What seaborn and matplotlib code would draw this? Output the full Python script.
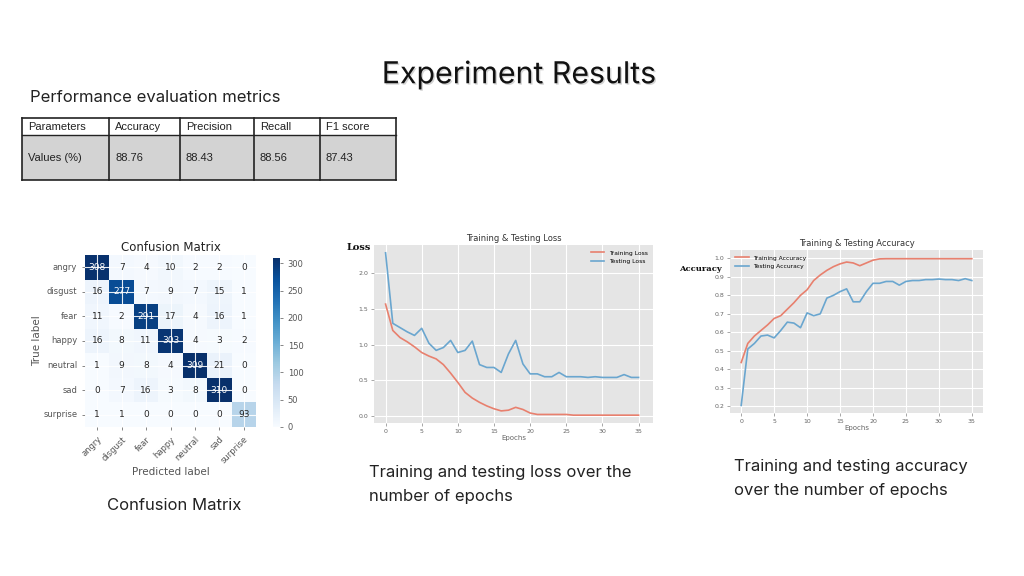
import numpy as np
import pandas as pd
import matplotlib
matplotlib.use("Agg")
import matplotlib.pyplot as plt
import matplotlib.patheffects as pe
from matplotlib.patches import Rectangle
import seaborn as sns

# ---------------- data ----------------
table_headers = ["Parameters", "Accuracy", "Precision", "Recall", "F1 score"]
table_values = ["Values (%)", "88.76", "88.43", "88.56", "87.43"]

cm_labels = ["angry", "disgust", "fear", "happy", "neutral", "sad", "surprise"]
cm_values = [
    [308, 7, 4, 10, 2, 2, 0],
    [16, 277, 7, 9, 7, 15, 1],
    [11, 2, 291, 17, 4, 16, 1],
    [16, 8, 11, 303, 4, 3, 2],
    [1, 9, 8, 4, 309, 21, 0],
    [0, 7, 16, 3, 8, 310, 0],
    [1, 1, 0, 0, 0, 0, 93],
]

epochs = list(range(36))
train_loss = [1.57, 1.20, 1.10, 1.04, 0.97, 0.89, 0.84, 0.80, 0.72, 0.60, 0.47, 0.33,
              0.25, 0.19, 0.14, 0.10, 0.07, 0.08, 0.12, 0.09, 0.04, 0.02, 0.02, 0.02,
              0.02, 0.02, 0.01, 0.01, 0.01, 0.01, 0.01, 0.01, 0.01, 0.01, 0.01, 0.01]
test_loss = [2.29, 1.30, 1.24, 1.18, 1.13, 1.23, 1.02, 0.92, 0.96, 1.06, 0.89, 0.92,
             1.05, 0.72, 0.68, 0.68, 0.61, 0.87, 1.06, 0.73, 0.59, 0.59, 0.55, 0.55,
             0.61, 0.55, 0.55, 0.55, 0.54, 0.55, 0.54, 0.54, 0.54, 0.58, 0.54, 0.54]

train_acc = [0.437, 0.54, 0.58, 0.61, 0.64, 0.675, 0.69, 0.725, 0.76, 0.80, 0.83, 0.88,
             0.91, 0.935, 0.955, 0.97, 0.98, 0.975, 0.96, 0.975, 0.99, 0.997, 0.998, 0.998,
             0.998, 0.998, 0.998, 0.998, 0.998, 0.998, 0.998, 0.998, 0.998, 0.998, 0.998, 0.998]
test_acc = [0.205, 0.51, 0.54, 0.58, 0.585, 0.57, 0.61, 0.655, 0.65, 0.625, 0.705, 0.69,
            0.70, 0.785, 0.80, 0.82, 0.835, 0.765, 0.765, 0.82, 0.865, 0.865, 0.875, 0.875,
            0.855, 0.875, 0.88, 0.88, 0.885, 0.885, 0.888, 0.885, 0.885, 0.88, 0.89, 0.88]

# ---------------- figure ----------------
W, H = 1024, 576
fig = plt.figure(figsize=(W / 100, H / 100), dpi=100)
fig.patch.set_facecolor("white")
SLIDE_FONT = "Inter"
CAP = 12

def px_axes(x0, y0, x1, y1):
    return fig.add_axes([x0 / W, 1 - y1 / H, (x1 - x0) / W, (y1 - y0) / H])

def ftext(x, y, s, **kw):
    return fig.text(x / W, 1 - y / H, s, **kw)

# Title
ftext(519, 75, "Experiment Results", fontsize=21.8, ha="center", va="center",
      family=SLIDE_FONT, color="#111111",
      path_effects=[pe.withSimplePatchShadow(offset=(1.0, -1.0), shadow_rgbFace="#aaaaaa", alpha=0.5)])

ftext(30, 97, "Performance evaluation metrics", fontsize=CAP, ha="left", va="center",
      family=SLIDE_FONT, color="#222222")

# Table
col_x = [22, 109, 180, 254, 320, 396]
row_y = [118, 135, 180]
fig.add_artist(Rectangle((col_x[0] / W, 1 - row_y[2] / H), (col_x[-1] - col_x[0]) / W,
                         (row_y[2] - row_y[1]) / H, transform=fig.transFigure,
                         facecolor="#d3d3d3", edgecolor="none"))
for x in col_x:
    fig.add_artist(plt.Line2D([x / W, x / W], [1 - row_y[0] / H, 1 - row_y[2] / H],
                              transform=fig.transFigure, color="#222222", lw=1.2))
for y, lw in zip(row_y, [1.2, 1.0, 1.2]):
    fig.add_artist(plt.Line2D([col_x[0] / W, col_x[-1] / W], [1 - y / H, 1 - y / H],
                              transform=fig.transFigure, color="#222222", lw=lw))
for i in range(5):
    ftext(col_x[i] + 6, 126.5, table_headers[i], fontsize=8, ha="left", va="center",
          family="Liberation Sans", color="#222222")
    ftext(col_x[i] + 6, 158, table_values[i], fontsize=8, ha="left", va="center",
          family="Liberation Sans", color="#222222")

# ---------------- confusion matrix ----------------
ax_cm = px_axes(85, 255, 256, 427)
cax = px_axes(273, 258, 280, 427)
cm_df = pd.DataFrame(cm_values, index=cm_labels, columns=cm_labels)
sns.heatmap(cm_df, ax=ax_cm, cbar_ax=cax, cmap="Blues", vmin=0, vmax=310,
            annot=True, fmt="d", annot_kws={"fontsize": 6.5}, square=False,
            cbar_kws={"ticks": [0, 50, 100, 150, 200, 250, 300]})
# white grid lines through cell centres (ggplot-style imshow)
for k in range(7):
    ax_cm.axvline(k + 0.5, color="white", lw=0.8, alpha=0.9)
    ax_cm.axhline(k + 0.5, color="white", lw=0.8, alpha=0.9)
ax_cm.set_title("Confusion Matrix", fontsize=8.5, color="#222222", pad=3)
ax_cm.set_xlabel("Predicted label", fontsize=7.5, color="#555555", labelpad=1)
ax_cm.set_ylabel("True label", fontsize=7.5, color="#555555", labelpad=1)
ax_cm.tick_params(axis="both", labelsize=6, colors="#555555", length=2, width=0.5)
ax_cm.set_xticklabels(cm_labels, rotation=45, ha="right", rotation_mode="anchor")
ax_cm.set_yticklabels(cm_labels, rotation=0)
cax.tick_params(labelsize=6, colors="#555555", length=2, width=0.5)
for s in cax.spines.values():
    s.set_visible(False)
ftext(174, 506, "Confusion Matrix", fontsize=CAP, ha="center", va="center",
      family=SLIDE_FONT, color="#222222")

# ---------------- ggplot-ish styling helper ----------------
def ggstyle(ax):
    ax.set_facecolor("#E5E5E5")
    ax.grid(True, color="white", lw=0.8)
    ax.set_axisbelow(True)
    for s in ax.spines.values():
        s.set_visible(False)
    ax.tick_params(labelsize=4.5, colors="#666666", length=2, width=0.4, pad=2)

RED = "#E8806E"
BLUE = "#6AA6CF"

# ---------------- loss ----------------
ax_l = px_axes(374, 245, 653, 423)
loss_df = pd.DataFrame({"Epochs": epochs * 2, "value": train_loss + test_loss,
                        "series": ["Training Loss"] * 36 + ["Testing Loss"] * 36})
sns.lineplot(data=loss_df, x="Epochs", y="value", hue="series", ax=ax_l,
             palette=[RED, BLUE], lw=1.2)
ggstyle(ax_l)
ax_l.set_xlim(-1.6, 37)
ax_l.set_ylim(-0.1, 2.4)
ax_l.set_xticks(range(0, 36, 5))
ax_l.set_yticks([0.0, 0.5, 1.0, 1.5, 2.0])
ax_l.set_ylabel("")
ax_l.set_xlabel("Epochs", fontsize=5, color="#666666", labelpad=1)
ax_l.set_title("Training & Testing Loss", fontsize=6, color="#333333", pad=3)
ax_l.legend(loc="upper right", fontsize=4.3, frameon=False, handlelength=2.2)
ftext(347, 247, "Loss", fontsize=7, family="DejaVu Serif", fontweight="bold",
      ha="left", va="center", color="#111111")
ftext(369, 472, "Training and testing loss over the", fontsize=CAP, ha="left",
      va="center", family=SLIDE_FONT, color="#222222")
ftext(369, 496, "number of epochs", fontsize=CAP, ha="left", va="center",
      family=SLIDE_FONT, color="#222222")

# ---------------- accuracy ----------------
ax_a = px_axes(730, 250, 983, 413)
acc_df = pd.DataFrame({"Epochs": epochs * 2, "value": train_acc + test_acc,
                       "series": ["Training Accuracy"] * 36 + ["Testing Accuracy"] * 36})
sns.lineplot(data=acc_df, x="Epochs", y="value", hue="series", ax=ax_a,
             palette=[RED, BLUE], lw=1.2)
ggstyle(ax_a)
ax_a.set_xlim(-1.7, 36.7)
ax_a.set_ylim(0.164, 1.045)
ax_a.set_xticks(range(0, 36, 5))
ax_a.set_yticks([0.2, 0.3, 0.4, 0.5, 0.6, 0.7, 0.8, 0.9, 1.0])
ax_a.set_ylabel("")
ax_a.set_xlabel("Epochs", fontsize=5, color="#666666", labelpad=1)
ax_a.set_title("Training & Testing Accuracy", fontsize=6, color="#333333", pad=3)
ax_a.legend(loc="upper left", fontsize=4.3, frameon=False, handlelength=2.2)
ftext(679, 269, "Accuracy", fontsize=6, family="DejaVu Serif", fontweight="bold",
      ha="left", va="center", color="#111111")
ftext(734, 467, "Training and testing accuracy", fontsize=CAP, ha="left",
      va="center", family=SLIDE_FONT, color="#222222")
ftext(734, 491, "over the number of epochs", fontsize=CAP, ha="left", va="center",
      family=SLIDE_FONT, color="#222222")

fig.savefig("out.png", dpi=100, facecolor="white")
